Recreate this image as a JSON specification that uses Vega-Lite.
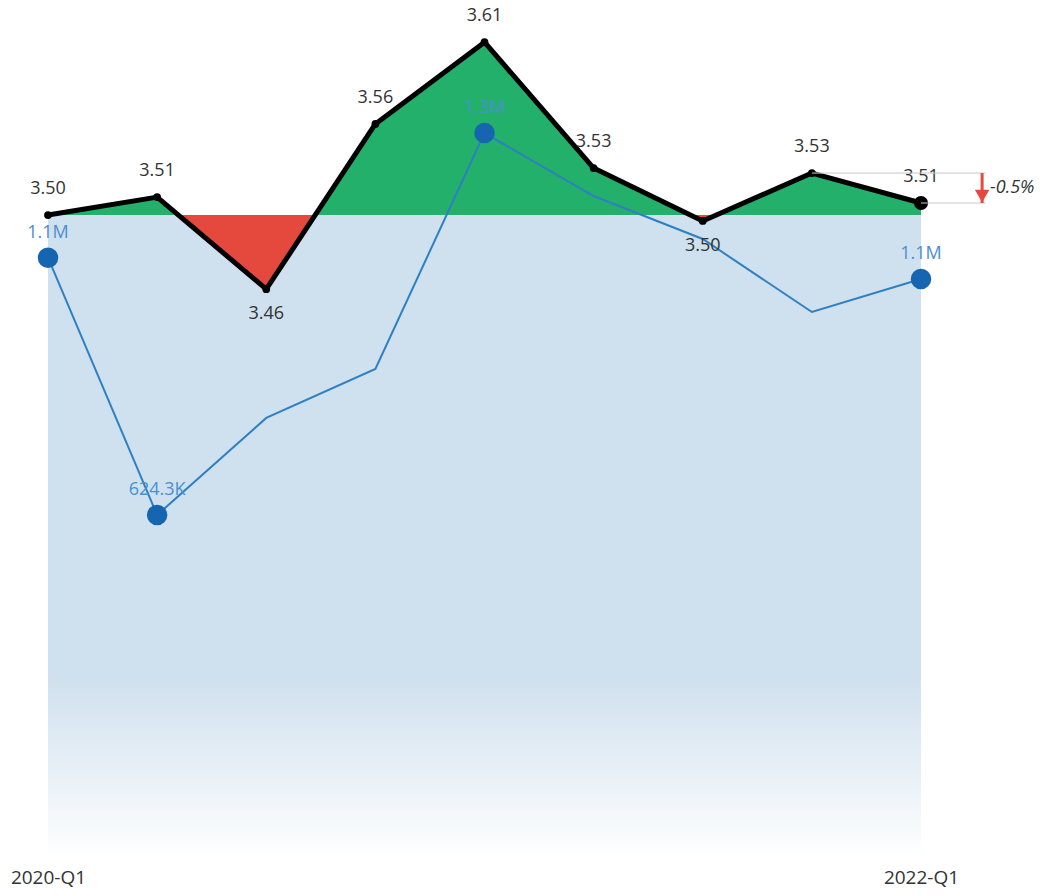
{
  "$schema": "https://vega.github.io/schema/vega-lite/v6.json",
  "width": 873,
  "height": 860,
  "autosize": {"type": "none"},
  "padding": {"left": 48, "right": 129, "top": 0, "bottom": 36},
  "background": "white",
  "config": {
    "view": {"stroke": null},
    "font": "Open Sans",
    "text": {"font": "Open Sans"}
  },
  "data": {
    "values": [
      {"idx": 0, "quarter": "2020-Q1", "price": 3.5005, "vol": 1090000},
      {"idx": 1, "quarter": "2020-Q2", "price": 3.5114, "vol": 624300},
      {"idx": 2, "quarter": "2020-Q3", "price": 3.4555, "vol": 800000},
      {"idx": 3, "quarter": "2020-Q4", "price": 3.5558, "vol": 888500},
      {"idx": 4, "quarter": "2021-Q1", "price": 3.6055, "vol": 1315600},
      {"idx": 5, "quarter": "2021-Q2", "price": 3.529, "vol": 1201600},
      {"idx": 6, "quarter": "2021-Q3", "price": 3.4969, "vol": 1123800},
      {"idx": 7, "quarter": "2021-Q4", "price": 3.526, "vol": 991700},
      {"idx": 8, "quarter": "2022-Q1", "price": 3.5078, "vol": 1051400}
    ]
  },
  "encoding": {
    "x": {
      "field": "idx",
      "type": "quantitative",
      "scale": {"domain": [0, 8], "nice": false, "zero": false},
      "axis": {
        "values": [0, 8],
        "labelExpr": "datum.value == 0 ? '2020-Q1' : '2022-Q1'",
        "domain": false,
        "ticks": false,
        "grid": false,
        "title": null,
        "labelFontSize": 19,
        "labelColor": "#333333",
        "labelPadding": 8,
        "labelFlush": false,
        "labelFont": "Open Sans"
      }
    }
  },
  "layer": [
    {
      "layer": [
        {
          "mark": {
            "type": "area",
            "color": {
              "gradient": "linear",
              "x1": 0, "y1": 0, "x2": 0, "y2": 1,
              "stops": [
                {"offset": 0, "color": "#cfe0ee"},
                {"offset": 0.716, "color": "#cfe0ee"},
                {"offset": 1, "color": "#ffffff"}
              ]
            }
          },
          "encoding": {
            "y": {"datum": 3.5005, "type": "quantitative", "scale": {"domain": [3.1088, 3.6311], "nice": false, "zero": false}, "axis": null},
            "y2": {"value": "height"}
          }
        },
        {
          "mark": {
            "type": "area",
            "color": {
              "gradient": "linear",
              "x1": 0, "y1": 0, "x2": 0, "y2": 1,
              "stops": [
                {"offset": 0, "color": "#22b06b"},
                {"offset": 0.7001, "color": "#22b06b"},
                {"offset": 0.7001, "color": "#e5483d"},
                {"offset": 1, "color": "#e5483d"}
              ]
            }
          },
          "encoding": {
            "y": {"field": "price", "type": "quantitative", "scale": {"domain": [3.1088, 3.6311], "nice": false, "zero": false}, "axis": null},
            "y2": {"datum": 3.5005}
          }
        }
      ]
    },
    {
      "transform": [
        {"joinaggregate": [{"op": "min", "field": "vol", "as": "vmin"}, {"op": "max", "field": "vol", "as": "vmax"}]},
        {"calculate": "datum.vol >= 1e6 ? format(datum.vol / 1e6, '.1f') + 'M' : format(datum.vol / 1e3, '.1f') + 'K'", "as": "vlabel"}
      ],
      "encoding": {
        "y": {"field": "vol", "type": "quantitative", "scale": {"domain": [0, 1556300], "nice": false, "zero": false}, "axis": null}
      },
      "layer": [
        {"mark": {"type": "line", "color": "#2f80c3", "strokeWidth": 2}},
        {
          "transform": [{"filter": "datum.vol == datum.vmin || datum.vol == datum.vmax || datum.idx == 0 || datum.idx == 8"}],
          "layer": [
            {"mark": {"type": "point", "filled": true, "opacity": 1, "color": "#1565b0", "size": 420}},
            {"mark": {"type": "text", "color": "#4a90d0", "fontSize": 18, "baseline": "alphabetic", "dy": -20}, "encoding": {"text": {"field": "vlabel"}}}
          ]
        }
      ]
    },
    {
      "transform": [
        {"window": [{"op": "lag", "field": "price", "as": "prev"}, {"op": "lead", "field": "price", "as": "next"}], "sort": [{"field": "idx"}]},
        {"calculate": "datum.prev != null && datum.next != null && datum.price < datum.prev && datum.price < datum.next", "as": "below"},
        {"calculate": "format(datum.price, '.2f')", "as": "plabel"}
      ],
      "encoding": {
        "y": {"field": "price", "type": "quantitative", "scale": {"domain": [3.1088, 3.6311], "nice": false, "zero": false}, "axis": null}
      },
      "layer": [
        {"mark": {"type": "line", "color": "#000000", "strokeWidth": 5, "strokeJoin": "round"}},
        {"mark": {"type": "point", "filled": true, "opacity": 1, "color": "#000000", "size": 60}},
        {
          "transform": [{"filter": "datum.idx == 8"}],
          "mark": {"type": "point", "filled": true, "opacity": 1, "color": "#000000", "size": 200}
        },
        {
          "transform": [{"filter": "!datum.below"}],
          "mark": {"type": "text", "color": "#333333", "fontSize": 18, "baseline": "alphabetic", "dy": -21},
          "encoding": {"text": {"field": "plabel"}}
        },
        {
          "transform": [{"filter": "datum.below"}],
          "mark": {"type": "text", "color": "#333333", "fontSize": 18, "baseline": "alphabetic", "dy": 30},
          "encoding": {"text": {"field": "plabel"}}
        },
        {
          "data": {"values": [{"fromIdx": 7, "toIdx": 8, "endIdx": 8.59, "arrowIdx": 8.56, "from": 3.526, "to": 3.5078}]},
          "transform": [
            {"calculate": "(datum.to - datum.from) / datum.from", "as": "pct"},
            {"calculate": "(datum.pct < 0 ? '-' : '+') + format(abs(datum.pct), '.1%')", "as": "pctLabel"},
            {"calculate": "(datum.from + datum.to) / 2", "as": "mid"}
          ],
          "layer": [
            {
              "mark": {"type": "rule", "color": "#c8c8c8", "strokeWidth": 1},
              "encoding": {
                "x": {"field": "fromIdx", "type": "quantitative"},
                "x2": {"field": "endIdx"},
                "y": {"field": "from", "type": "quantitative"}
              }
            },
            {
              "mark": {"type": "rule", "color": "#c8c8c8", "strokeWidth": 1},
              "encoding": {
                "x": {"field": "toIdx", "type": "quantitative"},
                "x2": {"field": "endIdx"},
                "y": {"field": "to", "type": "quantitative"}
              }
            },
            {
              "mark": {"type": "rule", "color": "#e5483d", "strokeWidth": 3},
              "encoding": {
                "x": {"field": "arrowIdx", "type": "quantitative"},
                "y": {"field": "from", "type": "quantitative"},
                "y2": {"field": "to"}
              }
            },
            {
              "mark": {"type": "point", "shape": "triangle-down", "filled": true, "opacity": 1, "color": "#e5483d", "size": 210},
              "encoding": {
                "x": {"field": "arrowIdx", "type": "quantitative"},
                "y": {"field": "to", "type": "quantitative"},
                "yOffset": {"value": -7}
              }
            },
            {
              "mark": {"type": "text", "color": "#333333", "fontSize": 18, "fontStyle": "italic", "align": "left", "baseline": "middle", "dx": 8},
              "encoding": {
                "x": {"field": "arrowIdx", "type": "quantitative"},
                "y": {"field": "mid", "type": "quantitative"},
                "text": {"field": "pctLabel"}
              }
            }
          ]
        }
      ]
    }
  ],
  "resolve": {"scale": {"y": "independent"}}
}
